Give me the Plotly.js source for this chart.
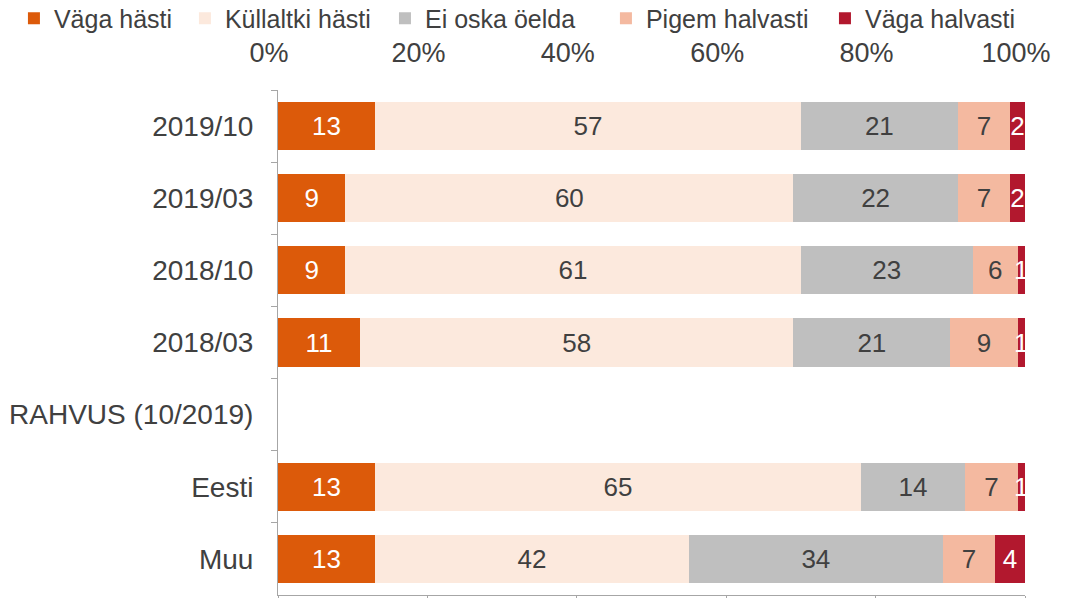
<!DOCTYPE html>
<html>
<head>
<meta charset="utf-8">
<script src="https://cdn.plot.ly/plotly-3.0.1.min.js"></script>
<style>html,body{margin:0;padding:0;background:#fff}#chart{width:1065px;height:598px}</style>
</head>
<body>
<div id="chart"></div>
<script>
const categories = ["2019/10", "2019/03", "2018/10", "2018/03", "RAHVUS (10/2019)", "Eesti", "Muu"];
const seriesNames = ["Väga hästi", "Küllaltki hästi", "Ei oska öelda", "Pigem halvasti", "Väga halvasti"];
const vagaHasti      = [13,  9,  9, 11, null, 13, 13];
const kullaltkiHasti = [57, 60, 61, 58, null, 65, 42];
const eiOskaOelda    = [21, 22, 23, 21, null, 14, 34];
const pigemHalvasti  = [ 7,  7,  6,  9, null,  7,  7];
const vagaHalvasti   = [ 2,  2,  1,  1, null,  1,  4];
const xTickVals = [0, 20, 40, 60, 80, 100];

const seriesValues = [vagaHasti, kullaltkiHasti, eiOskaOelda, pigemHalvasti, vagaHalvasti];
const colors = ["#DC5A0A", "#FCE9DD", "#BFBFBF", "#F4B9A0", "#B2182E"];
const textColors = ["#FFFFFF", "#404040", "#404040", "#404040", "#FFFFFF"];
const FONT = "Liberation Sans, Arial, sans-serif";
const legendIds = ["legend", "legend2", "legend3", "legend4", "legend5"];
const legendX = [-0.3535, -0.1246, 0.1432, 0.4390, 0.7322];

const traces = seriesValues.map((vals, i) => ({
  type: "bar",
  orientation: "h",
  name: seriesNames[i],
  legend: legendIds[i],
  y: categories,
  x: vals,
  text: vals.map(v => v == null ? "" : String(v)),
  textposition: "inside",
  insidetextanchor: "middle",
  constraintext: "none",
  cliponaxis: true,
  textfont: {family: FONT, size: 26, color: textColors[i]},
  marker: {color: colors[i], line: {width: 0}},
  hoverinfo: "none"
}));

// invisible trace to drive bottom axis line
traces.push({type: "scatter", x: [0, 100], y: [categories[0], categories[0]], xaxis: "x2", mode: "none", showlegend: false, hoverinfo: "none"});

const layout = {
  width: 1065, height: 598,
  margin: {l: 278, r: 40, t: 90, b: 3, autoexpand: false},
  paper_bgcolor: "#fff", plot_bgcolor: "#fff",
  barmode: "stack",
  bargap: 0.333,
  font: {family: FONT, size: 25, color: "#404040"},
  showlegend: true,
  xaxis: {
    side: "top",
    range: [0, 100],
    tickvals: xTickVals,
    ticktext: xTickVals.map(v => v + "%"),
    showgrid: false, zeroline: false, showline: false,
    ticks: "",
    ticklabelstandoff: 22,
    ticklabelshift: -9,
    tickfont: {family: FONT, size: 27, color: "#404040"},
    automargin: false,
    fixedrange: true
  },
  xaxis2: {
    overlaying: "x",
    side: "bottom",
    anchor: "y",
    range: [0, 100],
    tickvals: xTickVals,
    showticklabels: false,
    showgrid: false, zeroline: false,
    showline: true, linecolor: "#A6A6A6", linewidth: 1,
    ticks: "outside", ticklen: 6, tickcolor: "#A6A6A6",
    automargin: false
  },
  yaxis: {
    type: "category",
    autorange: "reversed",
    showgrid: false, zeroline: false,
    showline: true, linecolor: "#A6A6A6", linewidth: 1,
    ticks: "outside", ticklen: 6, tickcolor: "#A6A6A6",
    tickson: "boundaries",
    ticklabelstandoff: 18,
    automargin: false,
    tickfont: {family: FONT, size: 28, color: "#404040"}
  }
};

legendIds.forEach((id, i) => {
  layout[id] = {
    orientation: "h",
    x: legendX[i], y: 1.187, xanchor: "left", yanchor: "top",
    font: {family: FONT, size: 25, color: "#404040"},
    itemwidth: 30,
    bgcolor: "rgba(0,0,0,0)"
  };
});

Plotly.newPlot("chart", traces, layout, {staticPlot: true});
</script>
</body>
</html>
